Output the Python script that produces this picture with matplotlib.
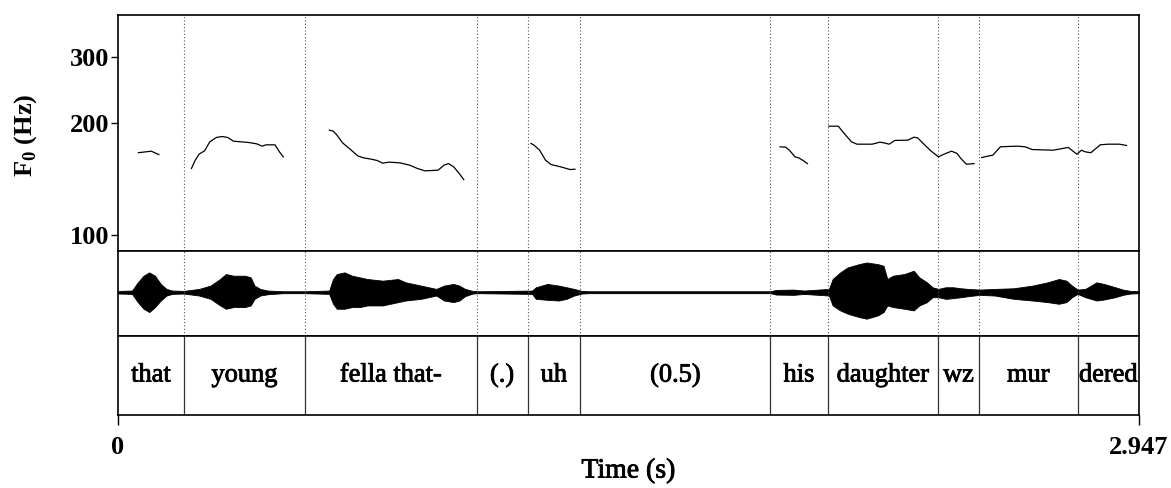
import numpy as np
import matplotlib.pyplot as plt
import matplotlib.patheffects as pe
from matplotlib.ticker import FixedLocator, NullLocator, FixedFormatter

plt.rcParams['font.family'] = ['Liberation Serif', 'DejaVu Serif']
plt.rcParams['mathtext.fontset'] = 'custom'
plt.rcParams['mathtext.rm'] = 'Liberation Serif:bold'
plt.rcParams['mathtext.bf'] = 'Liberation Serif:bold'

# time axis
t_end = 2.947

# word tier: boundaries (s) and labels
bounds = [0.0, 0.190, 0.540, 1.035, 1.182, 1.334, 1.883, 2.048, 2.367, 2.485, 2.770, 2.947]
words = ["that", "young", "fella that-", "(.)", "uh", "(0.5)", "his", "daughter", "wz", "mur", "dered"]

# F0 contour pieces (time s, Hz)
f0_that_t = [0.059, 0.096, 0.118]
f0_that_hz = [166.0, 167.6, 164.1]

f0_young_t = [0.212, 0.223, 0.234, 0.250, 0.265, 0.284, 0.300, 0.317, 0.333, 0.378, 0.400, 0.416, 0.427, 0.453, 0.466, 0.477]
f0_young_hz = [150.6, 158.5, 164.5, 168.0, 177.6, 182.4, 183.5, 182.4, 178.3, 176.8, 175.4, 172.9, 174.3, 174.3, 166.9, 161.8]

f0_fella_t = [0.610, 0.621, 0.632, 0.648, 0.670, 0.692, 0.709, 0.731, 0.748, 0.764, 0.781, 0.797,
              0.814, 0.842, 0.864, 0.886, 0.924, 0.941, 0.954, 0.969, 0.985, 0.998]
f0_fella_hz = [190.9, 189.7, 185.1, 176.5, 169.7, 162.8, 160.8, 159.5, 158.2, 155.6, 156.6, 156.3,
               155.9, 153.7, 150.6, 148.4, 149.0, 153.7, 155.2, 152.1, 145.9, 140.6]

f0_uh_t = [1.192, 1.201, 1.217, 1.234, 1.250, 1.278, 1.305, 1.319]
f0_uh_hz = [175.8, 173.9, 168.6, 158.5, 154.3, 152.1, 149.6, 149.9]

f0_his_t = [1.911, 1.927, 1.938, 1.954, 1.965, 1.976, 1.990]
f0_his_hz = [172.2, 171.8, 168.6, 161.8, 160.8, 158.5, 155.2]

f0_daughter_t = [2.052, 2.079, 2.096, 2.117, 2.133, 2.177, 2.199, 2.210, 2.226, 2.242, 2.280,
                 2.297, 2.308, 2.324, 2.346, 2.368, 2.384, 2.406, 2.422, 2.433, 2.449, 2.471]
f0_daughter_hz = [195.6, 195.6, 187.0, 177.6, 175.0, 175.0, 177.2, 176.5, 175.0, 179.1, 179.4,
                  182.7, 182.0, 175.8, 168.0, 161.8, 164.5, 167.6, 165.2, 160.1, 154.6, 155.2]

f0_murdered_t = [2.493, 2.509, 2.525, 2.547, 2.596, 2.618, 2.639, 2.699, 2.743, 2.759, 2.768,
                 2.781, 2.792, 2.808, 2.835, 2.857, 2.890, 2.911]
f0_murdered_hz = [161.1, 162.4, 163.5, 172.2, 172.9, 172.2, 169.3, 168.6, 171.5, 166.9, 164.5,
                  168.6, 166.9, 166.0, 174.3, 175.0, 175.0, 173.6]

f0_pieces = [(f0_that_t, f0_that_hz), (f0_young_t, f0_young_hz), (f0_fella_t, f0_fella_hz),
             (f0_uh_t, f0_uh_hz), (f0_his_t, f0_his_hz), (f0_daughter_t, f0_daughter_hz),
             (f0_murdered_t, f0_murdered_hz)]

# waveform envelope (time s, upper, lower; relative amplitude)
wave_t = [0.0, 0.0405, 0.0571, 0.0737, 0.0903, 0.1068, 0.1234, 0.1400, 0.1565, 0.1897, 0.2339, 0.2671,
          0.2946, 0.3113, 0.3333, 0.3665, 0.3830, 0.3941, 0.4106, 0.4327, 0.4769, 0.5399, 0.6095, 0.6206,
          0.6316, 0.6537, 0.6758, 0.6979, 0.7199, 0.7642, 0.8083, 0.8304, 0.8746, 0.9188, 0.9409, 0.9686,
          0.9851, 1.0017, 1.0237, 1.0404, 1.1951, 1.2061, 1.2393, 1.2722, 1.2945, 1.3166, 1.3386, 1.3608,
          1.8831, 1.90, 1.95, 1.98, 2.0520, 2.0627, 2.0846, 2.1062, 2.1389, 2.1608, 2.1934, 2.2096,
          2.2206, 2.2370, 2.2696, 2.2968, 2.3129, 2.3349, 2.3510, 2.3675, 2.3891, 2.4111, 2.4327, 2.4544,
          2.4870, 2.5306, 2.5852, 2.6394, 2.6830, 2.7157, 2.7373, 2.7537, 2.7699, 2.7918, 2.8245, 2.8461,
          2.8788, 2.9007, 2.9224, 2.947]
wave_up = [0.03, 0.04, 0.233, 0.389, 0.467, 0.389, 0.195, 0.078, 0.039, 0.031, 0.078, 0.156,
           0.311, 0.428, 0.389, 0.389, 0.350, 0.156, 0.078, 0.039, 0.023, 0.023, 0.039, 0.311,
           0.428, 0.467, 0.389, 0.350, 0.311, 0.272, 0.311, 0.233, 0.156, 0.078, 0.156, 0.195,
           0.156, 0.078, 0.031, 0.023, 0.039, 0.117, 0.195, 0.156, 0.117, 0.078, 0.031, 0.023,
           0.023, 0.055, 0.062, 0.040, 0.078, 0.311, 0.467, 0.584, 0.661, 0.700, 0.661, 0.623,
           0.311, 0.389, 0.428, 0.506, 0.350, 0.233, 0.117, 0.078, 0.117, 0.117, 0.093, 0.078,
           0.062, 0.078, 0.093, 0.156, 0.233, 0.311, 0.272, 0.156, 0.062, 0.078, 0.233, 0.195,
           0.117, 0.062, 0.031, 0.023]
wave_lo = [0.03, 0.04, 0.233, 0.389, 0.467, 0.350, 0.195, 0.078, 0.039, 0.031, 0.078, 0.156,
           0.311, 0.389, 0.350, 0.350, 0.311, 0.156, 0.078, 0.047, 0.023, 0.023, 0.039, 0.272,
           0.389, 0.389, 0.350, 0.350, 0.311, 0.311, 0.233, 0.195, 0.156, 0.078, 0.195, 0.233,
           0.195, 0.093, 0.031, 0.023, 0.039, 0.156, 0.179, 0.195, 0.156, 0.078, 0.031, 0.023,
           0.023, 0.055, 0.062, 0.040, 0.078, 0.311, 0.428, 0.506, 0.584, 0.623, 0.545, 0.467,
           0.311, 0.350, 0.389, 0.428, 0.311, 0.233, 0.117, 0.117, 0.156, 0.140, 0.117, 0.093,
           0.062, 0.078, 0.156, 0.195, 0.233, 0.272, 0.233, 0.117, 0.039, 0.117, 0.195, 0.171,
           0.117, 0.062, 0.031, 0.023]

fig = plt.figure(figsize=(11.71, 4.88), dpi=100)
left, width = 118 / 1171, 1021 / 1171
ax_f0 = fig.add_axes([left, 1 - 251 / 488, width, 236 / 488])
ax_wv = fig.add_axes([left, 1 - 336 / 488, width, 85 / 488])
ax_tg = fig.add_axes([left, 1 - 415 / 488, width, 79 / 488])

inner = bounds[1:-1]
heavy = [pe.withStroke(linewidth=0.6, foreground='black')]

# F0 panel
for t, hz in f0_pieces:
    ax_f0.plot(t, hz, color='black', lw=0.9)
ax_f0.set_yscale('log')
ax_f0.set_ylim(90.4, 389)
ax_f0.set_xlim(0, t_end)
ax_f0.yaxis.set_major_locator(FixedLocator([100, 200, 300]))
ax_f0.yaxis.set_major_formatter(FixedFormatter(['100', '200', '300']))
ax_f0.yaxis.set_minor_locator(NullLocator())
ax_f0.set_xticks([])
ax_f0.tick_params(axis='y', direction='out', length=5, width=1, labelsize=19, pad=1)
for lab in ax_f0.get_yticklabels():
    lab.set_fontweight('bold')
fig.text(26 / 1171, 1 - 135 / 488, r"F$_{0}$ (Hz)", fontsize=19, fontweight='bold',
         rotation=90, ha='center', va='center')
for x in inner:
    ax_f0.axvline(x, color='#555555', lw=0.8, ls=(0, (1, 2)))

# waveform panel
ax_wv.fill_between(wave_t, [-v for v in wave_lo], wave_up, color='black', lw=0.6)
ax_wv.set_xlim(0, t_end)
ax_wv.set_ylim(-1.03, 0.97)
ax_wv.set_xticks([])
ax_wv.set_yticks([])
for x in inner:
    ax_wv.axvline(x, color='#555555', lw=0.8, ls=(0, (1, 2)))

# text tier
ax_tg.set_xlim(0, t_end)
ax_tg.set_ylim(0, 1)
ax_tg.set_yticks([])
for x in inner:
    ax_tg.axvline(x, color='#333333', lw=0.9)
for i, w in enumerate(words):
    ax_tg.text((bounds[i] + bounds[i + 1]) / 2, 0.5, w, ha='center', va='center', fontsize=19,
               path_effects=heavy)
ax_tg.set_xticks([0, t_end])
ax_tg.set_xticklabels(['0', '2.947'], fontsize=19, fontweight='bold')
ax_tg.tick_params(axis='x', direction='out', length=7, width=1, pad=8)
fig.text(left + width / 2, 1 - 471 / 488, 'Time (s)', fontsize=20, ha='center', va='center',
         path_effects=heavy)

for ax in (ax_f0, ax_wv, ax_tg):
    for s in ax.spines.values():
        s.set_linewidth(1.2)

fig.savefig('out.png', dpi=100)
